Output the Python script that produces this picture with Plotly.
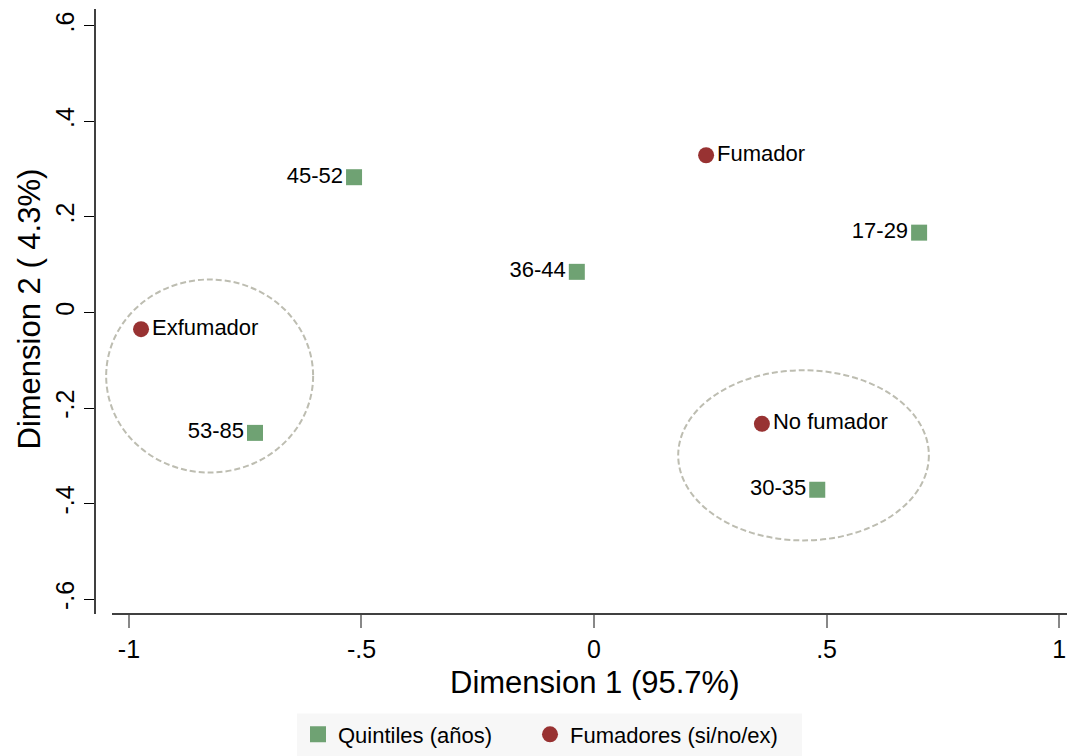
import plotly.graph_objects as go

# Correspondence analysis coordinates
age_labels = ["17-29", "30-35", "36-44", "45-52", "53-85"]
age_dim1 = [0.699, 0.480, -0.037, -0.516, -0.729]
age_dim2 = [0.167, -0.371, 0.085, 0.283, -0.252]

smoke_labels = ["Fumador", "No fumador", "Exfumador"]
smoke_dim1 = [0.241, 0.361, -0.974]
smoke_dim2 = [0.329, -0.233, -0.035]

# Dashed groupings: (x0, x1, y0, y1) in data units
groups = [(-1.049, -0.604, -0.335, 0.069), (0.181, 0.720, -0.477, -0.121)]

xtick_vals = [-1, -0.5, 0, 0.5, 1]
xtick_text = ["-1", "-.5", "0", ".5", "1"]
ytick_vals = [0.6, 0.4, 0.2, 0, -0.2, -0.4, -0.6]
ytick_text = [".6", ".4", ".2", "0", "-.2", "-.4", "-.6"]

FONT = "Liberation Sans, Arial, sans-serif"
NARROW = "Liberation Sans Narrow, Arial Narrow, Liberation Sans, sans-serif"
GREEN = "#6fa273"
RED = "#983232"

W, H = 1067, 756
ML, MT, MB = 95, 9, 139
pw = W - ML
ph = H - MT - MB


def px_x(p):
    return (p - ML) / pw


def px_y(p):
    return (MT + ph - p) / ph


fig = go.Figure()

fig.add_trace(go.Scatter(
    x=age_dim1, y=age_dim2, mode="markers+text", text=age_labels,
    textposition="middle left", name="Quintiles (años)", legend="legend",
    marker=dict(symbol="square", size=16, color=GREEN),
    textfont=dict(family=FONT, size=22, color="#000"),
))
fig.add_trace(go.Scatter(
    x=smoke_dim1, y=smoke_dim2, mode="markers+text", text=smoke_labels,
    textposition="middle right", name="Fumadores (si/no/ex)", legend="legend2",
    marker=dict(symbol="circle", size=16, color=RED),
    textfont=dict(family=FONT, size=22, color="#000"),
))

for x0, x1, y0, y1 in groups:
    fig.add_shape(type="circle", xref="x", yref="y", x0=x0, x1=x1, y0=y0, y1=y1,
                  line=dict(color="#bdbdb1", width=2, dash="6px,3px"), layer="below")

# Axis lines drawn separately, Stata style
fig.add_shape(type="line", xref="paper", yref="paper", x0=0, x1=0, y0=0, y1=1,
              line=dict(color="#000", width=1.5))
fig.add_shape(type="line", xref="paper", yref="paper", x0=px_x(112), x1=1, y0=0, y1=0,
              line=dict(color="#000", width=1.5))

# Shared legend background
fig.add_shape(type="rect", xref="paper", yref="paper",
              x0=px_x(297), x1=px_x(802), y0=px_y(760), y1=px_y(717),
              fillcolor="#f7f7f7", line=dict(width=0), layer="below")

# Axis titles
fig.add_annotation(text="Dimension 1 (95.7%)", xref="x", x=0, yref="paper",
                   y=px_y(686), xanchor="center", yanchor="middle",
                   showarrow=False, font=dict(family=FONT, size=31, color="#000"))
fig.add_annotation(text="Dimension 2 ( 4.3%)", xref="paper", x=px_x(30),
                   yref="paper", y=px_y(311), textangle=-90,
                   xanchor="center", yanchor="middle",
                   showarrow=False, font=dict(family=FONT, size=31, color="#000"))

legend_common = dict(orientation="h", xanchor="left", yanchor="top", y=px_y(717),
                     bgcolor="rgba(0,0,0,0)", font=dict(family=FONT, size=22),
                     itemsizing="trace", itemwidth=30)

fig.update_layout(
    width=W, height=H,
    margin=dict(l=ML, r=0, t=MT, b=MB),
    paper_bgcolor="white", plot_bgcolor="white",
    font=dict(family=FONT, color="#000"),
    showlegend=True,
    legend=dict(x=px_x(298), **legend_common),
    legend2=dict(x=px_x(530), **legend_common),
    xaxis=dict(range=[-1.073, 1.017], tickvals=xtick_vals, ticktext=xtick_text,
               showgrid=False, zeroline=False, showline=False,
               ticks="outside", ticklen=13, tickwidth=2, tickcolor="#888",
               tickfont=dict(family=NARROW, size=25)),
    yaxis=dict(range=[-0.631, 0.635], tickvals=ytick_vals, ticktext=ytick_text,
               showgrid=False, zeroline=False, showline=False,
               ticks="outside", ticklen=10, tickwidth=1, tickcolor="#000",
               tickangle=-90, tickfont=dict(family=NARROW, size=25)),
)

fig.write_html("out.html")
